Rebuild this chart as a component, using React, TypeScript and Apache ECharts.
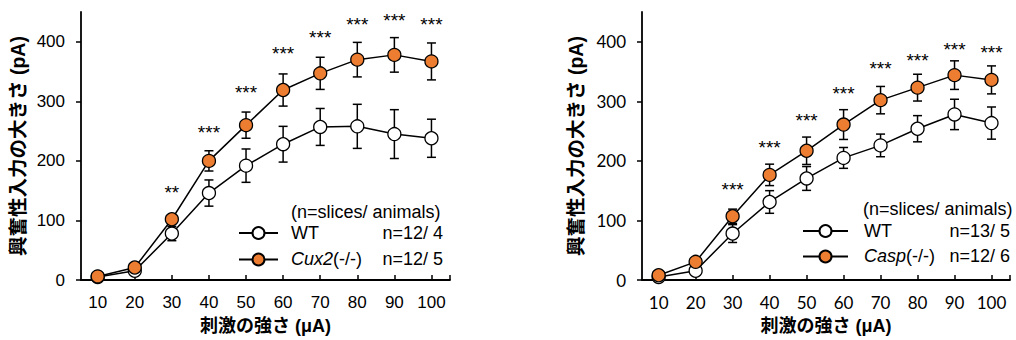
import React, { useEffect, useRef } from "react";
import * as echarts from "echarts";

// ---- data ----
const stimulus = [10, 20, 30, 40, 50, 60, 70, 80, 90, 100];
const yTicks = [0, 100, 200, 300, 400];

// left panel (Cux2)
const wtA = [5, 15.5, 78, 146, 192, 228, 257, 258, 245, 238];
const wtAErr = [2, 3, 12, 22, 28, 30, 31, 37, 41, 32];
const cux2 = [6, 21, 102, 200, 260, 319, 347, 370, 378, 367];
const cux2Err = [2, 3, 6, 17, 22, 27, 27, 29, 29, 31];
const starsA = ["", "", "**", "***", "***", "***", "***", "***", "***", "***"];
const starsAY = [0, 0, 152, 253, 320, 385, 413, 434, 440, 434];

// right panel (Casp)
const wtB = [5, 15.5, 78, 131, 170.5, 205, 226, 254, 278, 263.5];
const wtBErr = [2, 3, 15, 19, 20, 17.5, 19, 22, 25.5, 27];
const casp = [8, 30.5, 107, 176.5, 217, 261, 302, 323, 344, 336];
const caspErr = [2, 3, 12, 18, 23, 25, 23, 22.5, 24, 23.5];
const starsB = ["", "", "***", "***", "***", "***", "***", "***", "***", "***"];
const starsBY = [0, 0, 157, 227, 273, 318, 361, 373, 392, 387];

const legendA = { wt: "n=12/ 4", ko: "Cux2", nko: "n=12/ 5" };
const legendB = { wt: "n=13/ 5", ko: "Casp", nko: "n=12/ 6" };

const ORANGE = "#ED7D31";
const SANS = "'Liberation Sans', Arial, 'Noto Sans CJK JP'";
const CJK = "'Liberation Sans', 'Noto Sans CJK JP'";

function errData(mean: number[], err: number[]) {
  return stimulus.map((x, i) => [x, mean[i], err[i]]);
}

function errSeries(idx: number, mean: number[], err: number[]) {
  return {
    type: "custom",
    xAxisIndex: idx,
    yAxisIndex: idx,
    z: 1,
    encode: { x: 0, y: 1 },
    data: errData(mean, err),
    renderItem: (params: any, api: any) => {
      const x = api.value(0);
      const m = api.value(1);
      const e = api.value(2);
      const t = api.coord([x, m + e]);
      const b = api.coord([x, m - e]);
      const hw = 4.5;
      const st = { stroke: "#000", lineWidth: 1.5 };
      return {
        type: "group",
        children: [
          { type: "line", shape: { x1: t[0], y1: t[1], x2: b[0], y2: b[1] }, style: st },
          { type: "line", shape: { x1: t[0] - hw, y1: t[1], x2: t[0] + hw, y2: t[1] }, style: st },
          { type: "line", shape: { x1: b[0] - hw, y1: b[1], x2: b[0] + hw, y2: b[1] }, style: st },
        ],
      };
    },
  };
}

function lineSeries(idx: number, name: string, values: number[], fill: string) {
  return {
    type: "line",
    name,
    xAxisIndex: idx,
    yAxisIndex: idx,
    z: 3,
    data: stimulus.map((x, i) => [x, values[i]]),
    symbol: "circle",
    symbolSize: 13,
    lineStyle: { color: "#000", width: 1.5 },
    itemStyle: { color: fill, borderColor: "#000", borderWidth: 1.3 },
  };
}

function starSeries(idx: number, labels: string[], ys: number[]) {
  return {
    type: "scatter",
    xAxisIndex: idx,
    yAxisIndex: idx,
    z: 4,
    symbolSize: 1,
    itemStyle: { color: "#000", opacity: 0 },
    data: stimulus
      .map((x, i) => [x, ys[i], labels[i]])
      .filter((d) => d[2] !== ""),
    label: {
      show: true,
      position: "top",
      distance: -13,
      formatter: (p: any) => p.value[2],
      fontSize: 19,
      fontFamily: SANS,
      color: "#000",
      opacity: 1,
      textBorderWidth: 0,
    },
    emphasis: { disabled: true },
  };
}

function xAxis(idx: number, labelFont: string) {
  return {
    type: "value",
    gridIndex: idx,
    min: 5.5,
    max: 105,
    name: "刺激の強さ (μA)",
    nameLocation: "middle",
    nameGap: 37,
    nameTextStyle: { fontSize: 18, fontWeight: "bold", color: "#000", fontFamily: CJK },
    axisLine: { lineStyle: { color: "#000", width: 1.8 } },
    axisTick: { show: true, inside: true, length: 5, lineStyle: { color: "#000", width: 1.5 }, customValues: [...stimulus, 105] },
    axisLabel: { customValues: stimulus, margin: 14, fontSize: 17, color: "#000", fontFamily: labelFont },
    splitLine: { show: false },
  };
}

function yAxis(idx: number, labelFont: string, gap: number) {
  return {
    type: "value",
    gridIndex: idx,
    min: 0,
    max: 450,
    name: "興奮性入力の大きさ (pA)",
    nameLocation: "middle",
    nameGap: gap,
    nameTextStyle: { fontSize: 19.5, fontWeight: "bold", color: "#000", fontFamily: CJK },
    axisLine: { show: true, lineStyle: { color: "#000", width: 1.8 } },
    axisTick: { show: true, length: 5, lineStyle: { color: "#000", width: 1.5 }, customValues: yTicks },
    axisLabel: { customValues: yTicks, margin: 16, fontSize: 17, color: "#000", fontFamily: labelFont },
    splitLine: { show: false },
  };
}

function legend(left: number, top: number, itemWidth: number, pad: number, gap: number, names: string[], info: any, nameW: number, koW: number) {
  const base = { fontSize: 18, fontFamily: SANS, color: "#000", lineHeight: 15 };
  return {
    orient: "vertical",
    left,
    top,
    itemWidth,
    itemHeight: 15,
    itemGap: gap,
    data: names,
    formatter: (n: string) =>
      n === "WT"
        ? `{nm|WT}{n|${info.wt}}`
        : `{it|${info.ko}}{p|(-/-)}{n|${info.nko}}`,
    textStyle: {
      padding: [0, 0, 0, pad],
      ...base,
      rich: {
        nm: { ...base, width: nameW },
        it: { ...base, fontStyle: "italic" },
        p: { ...base, width: koW },
        n: { ...base, width: 61, align: "right" },
      },
    },
  };
}

export default function App() {
  const ref = useRef<HTMLDivElement>(null);
  useEffect(() => {
    const chart = echarts.init(ref.current!, null, { renderer: "svg" });
    const titleStyle = { fontSize: 18, fontWeight: "normal", fontFamily: SANS, color: "#000" };
    const option: any = {
      animation: false,
      backgroundColor: "#fff",
      grid: [
        { left: 81, top: 12, width: 369, height: 269 },
        { left: 642, top: 12, width: 368, height: 268 },
      ],
      xAxis: [xAxis(0, SANS), xAxis(1, "Lato")],
      yAxis: [yAxis(0, SANS, 53), yAxis(1, "Lato", 56)],
      title: [
        { text: "(n=slices/ animals)", left: 291, top: 203, textStyle: titleStyle, padding: 0 },
        { text: "(n=slices/ animals)", left: 863, top: 200, textStyle: titleStyle, padding: 0 },
      ],
      legend: [
        legend(233, 219, 39, 8, 8.5, ["WT", "Cux2(-/-)"], legendA, 91, 49),
        legend(797, 217, 45, 11, 7.5, ["WT", "Casp(-/-)"], legendB, 85, 43),
      ],
      series: [
        errSeries(0, wtA, wtAErr),
        errSeries(0, cux2, cux2Err),
        lineSeries(0, "WT", wtA, "#fff"),
        lineSeries(0, "Cux2(-/-)", cux2, ORANGE),
        starSeries(0, starsA, starsAY),
        errSeries(1, wtB, wtBErr),
        errSeries(1, casp, caspErr),
        lineSeries(1, "WT", wtB, "#fff"),
        lineSeries(1, "Casp(-/-)", casp, ORANGE),
        starSeries(1, starsB, starsBY),
      ],
    };
    chart.setOption(option);
    return () => chart.dispose();
  }, []);
  return (
    <div
      ref={ref}
      style={{ position: "absolute", left: 0, top: 0, width: 1016, height: 340 }}
    />
  );
}
